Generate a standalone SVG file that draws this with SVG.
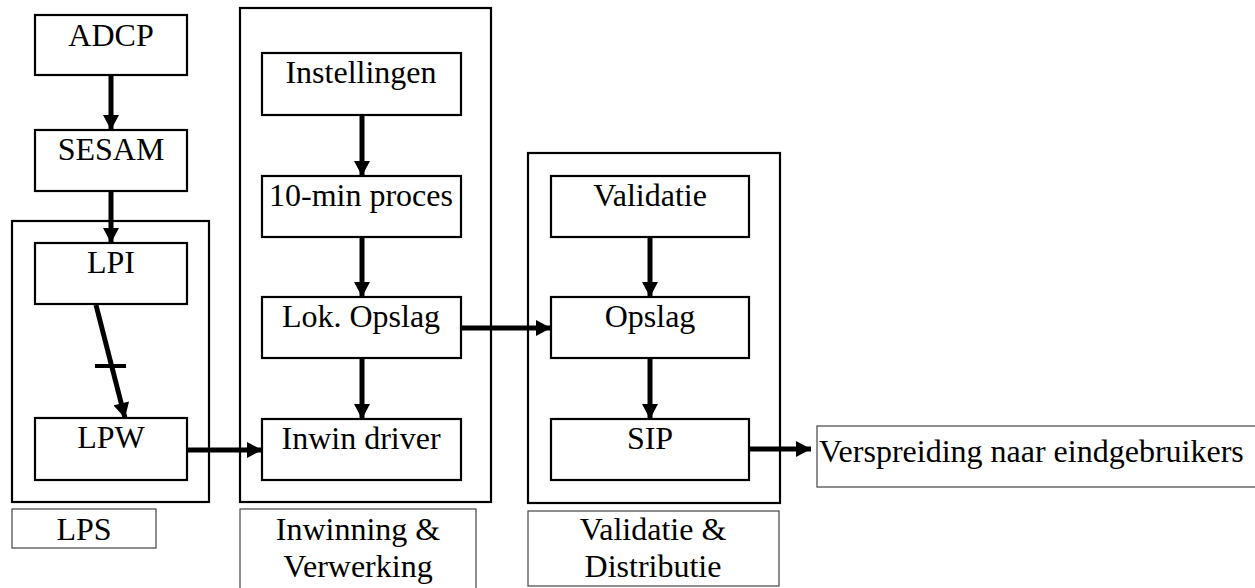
<svg xmlns="http://www.w3.org/2000/svg" width="1255" height="588" viewBox="0 0 1255 588">
<style>
.box{fill:#fff;stroke:#000;stroke-width:2.2}
.cont{fill:none;stroke:#000;stroke-width:2.2}
.lbl{fill:#fff;stroke:#444;stroke-width:1.2}
.t{font-family:'Liberation Serif','Times New Roman',serif;font-size:32px;fill:#000;text-anchor:middle}
.tl{font-family:'Liberation Serif','Times New Roman',serif;font-size:32px;fill:#000}
.c{stroke:#000;stroke-width:5;fill:none}
</style>
<defs>
<marker id="ah" markerUnits="userSpaceOnUse" markerWidth="16" markerHeight="16" viewBox="0 0 15 16" refX="15" refY="8" orient="auto">
<path d="M0,0 L15,8 L0,16 Z" fill="#000"/>
</marker>
</defs>
<rect width="1255" height="588" fill="#fff"/>
<g id="containers">
<rect id="lps-container" class="cont" x="12" y="221" width="197" height="281"/>
<rect id="inw-container" class="cont" x="240" y="8" width="251" height="494"/>
<rect id="val-container" class="cont" x="528" y="153" width="252" height="350"/>
</g>
<g id="adcp"><rect class="box" x="35" y="15" width="152" height="60"/><text class="t" x="111" y="46">ADCP</text></g>
<g id="sesam"><rect class="box" x="35" y="130" width="152" height="61"/><text class="t" x="111" y="160">SESAM</text></g>
<g id="lpi"><rect class="box" x="35" y="243" width="152" height="61"/><text class="t" x="111" y="273">LPI</text></g>
<g id="lpw"><rect class="box" x="35" y="418" width="152" height="62"/><text class="t" x="111" y="448">LPW</text></g>
<g id="lps-label"><rect class="lbl" x="12" y="509" width="144" height="39"/><text class="t" x="84" y="540">LPS</text></g>
<g id="instellingen"><rect class="box" x="262" y="53" width="199" height="62"/><text class="t" x="361" y="83">Instellingen</text></g>
<g id="tienmin"><rect class="box" x="262" y="176" width="199" height="61"/><text class="t" x="361" y="206">10-min proces</text></g>
<g id="lokopslag"><rect class="box" x="262" y="297" width="199" height="61"/><text class="t" x="361" y="327">Lok. Opslag</text></g>
<g id="inwin"><rect class="box" x="262" y="419" width="199" height="61"/><text class="t" x="361" y="449">Inwin driver</text></g>
<g id="inw-label"><rect class="lbl" x="240" y="509" width="236" height="90"/><text class="t" x="358" y="540">Inwinning &amp;</text><text class="t" x="358" y="577">Verwerking</text></g>
<g id="validatie"><rect class="box" x="551" y="176" width="198" height="61"/><text class="t" x="650" y="206">Validatie</text></g>
<g id="opslag"><rect class="box" x="551" y="297" width="198" height="61"/><text class="t" x="650" y="327">Opslag</text></g>
<g id="sip"><rect class="box" x="551" y="419" width="198" height="61"/><text class="t" x="650" y="449">SIP</text></g>
<g id="val-label"><rect class="lbl" x="528" y="511" width="251" height="75"/><text class="t" x="653" y="540">Validatie &amp;</text><text class="t" x="653" y="577">Distributie</text></g>
<g id="verspreiding"><rect class="lbl" x="817" y="426" width="450" height="61"/><text class="tl" x="819" y="462">Verspreiding naar eindgebruikers</text></g>
<g id="connectors">
<line class="c" x1="111" y1="76" x2="111" y2="130" marker-end="url(#ah)"/>
<line class="c" x1="111" y1="192" x2="111" y2="243" marker-end="url(#ah)"/>
<line class="c" x1="96" y1="305" x2="125" y2="418" marker-end="url(#ah)"/>
<line x1="95" y1="366" x2="126" y2="366" stroke="#000" stroke-width="4"/>
<line class="c" x1="188" y1="450" x2="262" y2="450" marker-end="url(#ah)"/>
<line class="c" x1="362" y1="116" x2="362" y2="176" marker-end="url(#ah)"/>
<line class="c" x1="362" y1="238" x2="362" y2="297" marker-end="url(#ah)"/>
<line class="c" x1="362" y1="359" x2="362" y2="419" marker-end="url(#ah)"/>
<line class="c" x1="462" y1="328" x2="551" y2="328" marker-end="url(#ah)"/>
<line class="c" x1="650" y1="238" x2="650" y2="297" marker-end="url(#ah)"/>
<line class="c" x1="650" y1="359" x2="650" y2="419" marker-end="url(#ah)"/>
<line class="c" x1="750" y1="449" x2="811" y2="449" marker-end="url(#ah)"/>
</g>
</svg>
